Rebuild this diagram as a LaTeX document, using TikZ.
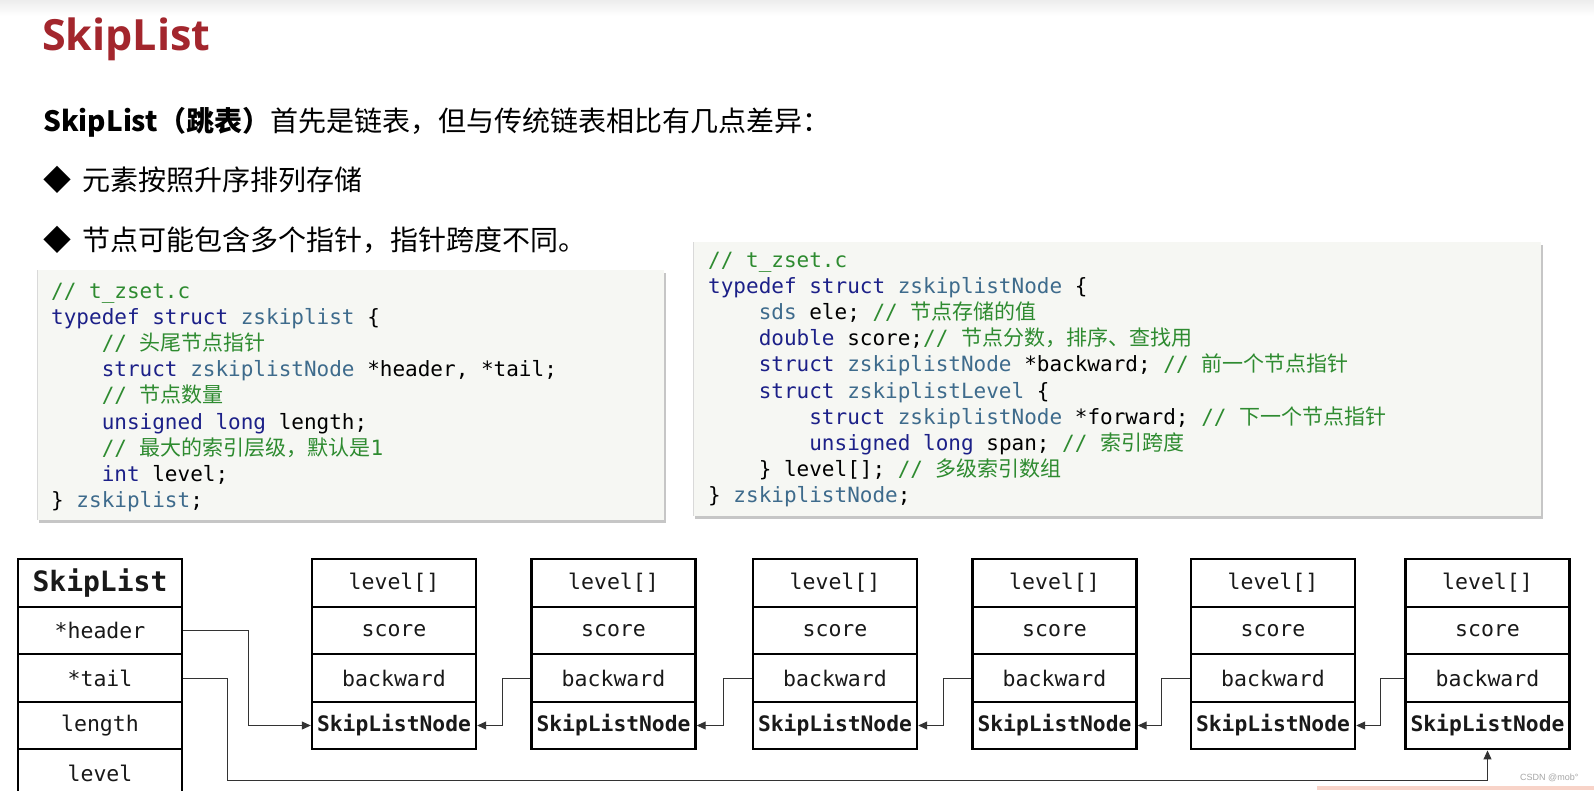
\documentclass[tikz,border=0pt]{standalone}
\usepackage{fontspec}
\setmonofont{DejaVu Sans Mono}
\newfontfamily\cjk{Noto Sans CJK SC}
\newfontfamily\titlefont{Open Sans}
\newfontfamily\wmfont{Liberation Sans}
\usetikzlibrary{arrows.meta}
\definecolor{titlered}{HTML}{A3262D}
\definecolor{kwblue}{HTML}{1C2088}
\definecolor{tyteal}{HTML}{3E6B8C}
\definecolor{cmgreen}{HTML}{2E8B30}
\definecolor{codebg}{HTML}{F6F7F3}
\definecolor{barpink}{HTML}{F8D3C8}
\tikzset{
  cell/.style     = {draw, line width=2.4pt, minimum width=164pt, minimum height=47.5pt,
                     inner sep=0pt, text=black!90, font=\ttfamily\fontsize{21.5}{21.5}\selectfont},
  headcell/.style = {cell, font=\ttfamily\bfseries\fontsize{21.3}{21.3}\selectfont},
  titlecell/.style= {cell, font=\ttfamily\bfseries\fontsize{28}{28}\selectfont},
  link/.style     = {-{Triangle[length=9pt,width=8pt]}, line width=1pt, black!80},
  code/.style     = {anchor=north west, align=left, inner sep=0pt,
                     font=\ttfamily\fontsize{21}{26.1}\selectfont},
  slide/.style    = {anchor=base west, inner sep=0pt, font=\cjk\fontsize{28}{28}\selectfont},
}
\newcommand{\kw}[1]{\textcolor{kwblue}{#1}}
\newcommand{\ty}[1]{\textcolor{tyteal}{#1}}
\newcommand{\cm}[1]{\textcolor{cmgreen}{//~#1}}
\newcommand{\zh}[1]{{\cjk #1}}
\newcommand{\ind}{\phantom{xxxx}}
% one SkipListNode: four stacked cells
\newcommand{\slnode}[2]{
  \node[cell]     (#1-lv) at (#2,583)   {level[]};
  \node[cell]     (#1-sc) at (#2,630.5) {score};
  \node[cell]     (#1-bw) at (#2,678)   {backward};
  \node[headcell] (#1-nd) at (#2,725.5) {SkipListNode};
}

\begin{document}
\begin{tikzpicture}[x=1pt,y=-1pt]
\clip (0,0) rectangle (1594,790);
\fill[white] (0,0) rectangle (1594,790);
\shade[top color=gray!14, bottom color=white] (0,0) rectangle (1594,16);
% ---------- heading ----------
\node[anchor=base west, inner sep=0pt, text=titlered,
      font=\titlefont\bfseries\fontsize{43}{43}\selectfont] (title) at (42,50) {SkipList};
\node[slide] (intro) at (43,131) {{\bfseries SkipList（跳表）}首先是链表，但与传统链表相比有几点差异：};
\node[slide] (item1) at (43,190.5) {◆\hspace{11pt}元素按照升序排列存储};
\node[slide] (item2) at (43,250.5) {◆\hspace{11pt}节点可能包含多个指针，指针跨度不同。};
% ---------- code boxes ----------
\fill[gray!45] (39,273) rectangle (666,523);
\fill[codebg] (37,270) rectangle (664,520);
\draw[gray!30] (37,270) -- (37,520);
\node[code] (listcode) at (51,283) {%
\cm{t\_zset.c}\\
\kw{typedef struct} \ty{zskiplist} \{\\
\ind\cm{\zh{头尾节点指针}}\\
\ind\kw{struct} \ty{zskiplistNode} *header, *tail;\\
\ind\cm{\zh{节点数量}}\\
\ind\kw{unsigned long} length;\\
\ind\cm{\zh{最大的索引层级，默认是}1}\\
\ind\kw{int} level;\\
\} \ty{zskiplist};};
\fill[gray!45] (695,245) rectangle (1543,519);
\fill[codebg] (693,242) rectangle (1541,516);
\draw[gray!30] (693,242) -- (693,516);
\node[code] (nodecode) at (708,252) {%
\cm{t\_zset.c}\\
\kw{typedef struct} \ty{zskiplistNode} \{\\
\ind\ty{sds} ele; \cm{\zh{节点存储的值}}\\
\ind\kw{double} score;\cm{\zh{节点分数，排序、查找用}}\\
\ind\kw{struct} \ty{zskiplistNode} *backward; \cm{\zh{前一个节点指针}}\\
\ind\kw{struct} \ty{zskiplistLevel} \{\\
\ind\ind\kw{struct} \ty{zskiplistNode} *forward; \cm{\zh{下一个节点指针}}\\
\ind\ind\kw{unsigned long} span; \cm{\zh{索引跨度}}\\
\ind\} level[]; \cm{\zh{多级索引数组}}\\
\} \ty{zskiplistNode};};
% ---------- SkipList struct ----------
\node[titlecell] (sl-tt) at (100,583)   {SkipList};
\node[cell]      (sl-hd) at (100,630.5) {*header};
\node[cell]      (sl-tl) at (100,678)   {*tail};
\node[cell]      (sl-ln) at (100,725.5) {length};
\node[cell]      (sl-lv) at (100,773)   {level};
% ---------- nodes ----------
\slnode{n1}{394}
\slnode{n2}{613.5}
\slnode{n3}{835}
\slnode{n4}{1054.5}
\slnode{n5}{1273}
\slnode{n6}{1487.5}
% ---------- pointers ----------
\draw[link] (sl-hd.east) -- ++(65,0) |- (n1-nd.west);
\coordinate (tailturn) at (227,780);
\draw[link] (sl-tl.east) -| (tailturn) -| (n6-nd.south);
\draw[link] (n2-bw.west) -- ++(-28,0) |- (n1-nd.east);
\draw[link] (n3-bw.west) -- ++(-28,0) |- (n2-nd.east);
\draw[link] (n4-bw.west) -- ++(-28,0) |- (n3-nd.east);
\draw[link] (n5-bw.west) -- ++(-28,0) |- (n4-nd.east);
\draw[link] (n6-bw.west) -- ++(-24,0) |- (n5-nd.east);
% ---------- footer ----------
\fill[barpink] (1317,786) rectangle (1594,790);
\node[anchor=base west, inner sep=0pt, text=gray!70, font=\wmfont\fontsize{9}{9}\selectfont]
  (mark) at (1520,780) {CSDN @mob°};
\end{tikzpicture}
\end{document}
